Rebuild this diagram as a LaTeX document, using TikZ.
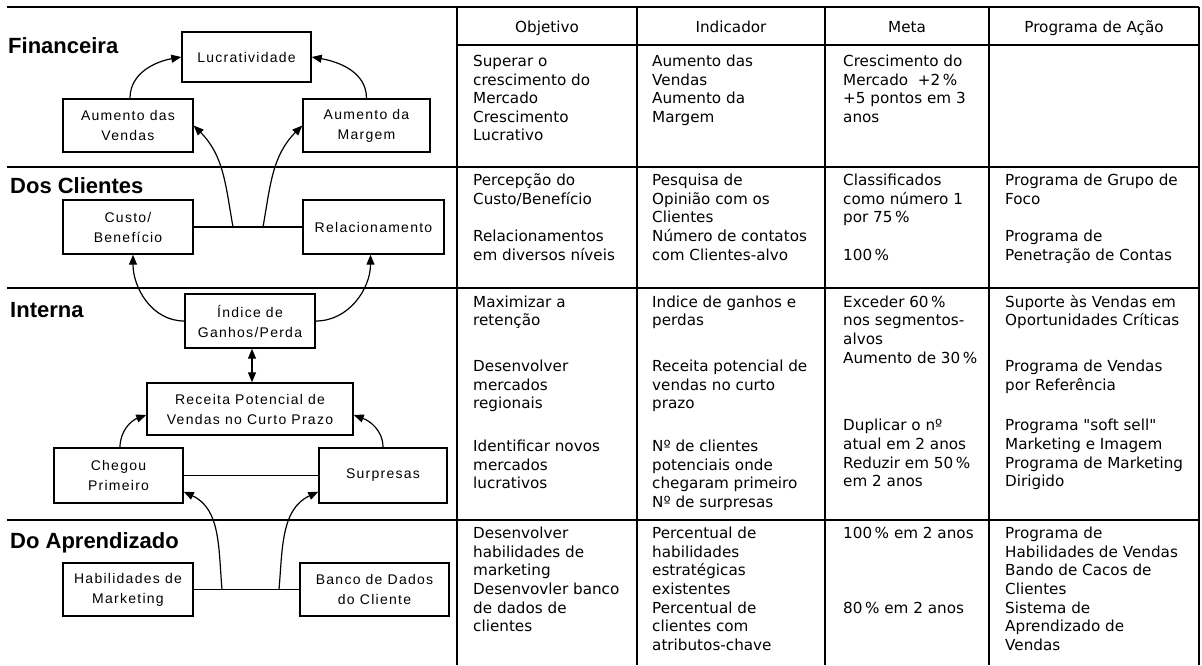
\documentclass[tikz,border=0pt]{standalone}
\usepackage{fontspec}
\usetikzlibrary{arrows.meta}
\newfontfamily\tabfont[Ligatures=TeXOff]{DejaVu Sans}
\newfontfamily\boxfont[LetterSpace=9]{Liberation Sans}
\newfontfamily\headfont{Liberation Sans}

\begin{document}
\begin{tikzpicture}[x=1pt,y=-1pt,
  grid/.style={line width=1.5pt},
  headrule/.style={line width=2.6pt},
  dbox/.style={draw, line width=1.4pt, fill=white, align=center, inner sep=0pt,
    font=\boxfont\fontsize{14}{20}\selectfont},
  link/.style={line width=1.2pt},
  tip/.tip={Triangle[length=10pt,width=8pt]},
  flow/.style={line width=1.2pt, -tip},
  sect/.style={anchor=base west, inner sep=0pt,
    font=\headfont\bfseries\fontsize{22}{26}\selectfont},
  hcell/.style={anchor=base, inner sep=0pt,
    font=\tabfont\fontsize{15.2}{18.6}\selectfont},
  cell/.style={anchor=north west, inner sep=0pt, align=left,
    font=\tabfont\fontsize{15.2}{18.6}\selectfont}]

\useasboundingbox (0,0) rectangle (1202,665);

% ---- grid of the table ----
\draw[grid] (7,7) -- (1199,7);
\draw[headrule] (457,45) -- (1199,45);
\draw[grid] (7,167) -- (1199,167);
\draw[grid] (7,288) -- (1199,288);
\draw[grid] (7,520) -- (1199,520);
\foreach \xc in {457,637,825,989,1199}
  \draw[grid] (\xc,7) -- (\xc,665);

% ---- column headings ----
\node[hcell] (hobj)  at (547,32)  {Objetivo};
\node[hcell] (hind)  at (731,32)  {Indicador};
\node[hcell] (hmeta) at (907,32)  {Meta};
\node[hcell] (hprog) at (1094,32) {Programa de Ação};

% ---- perspective labels ----
\node[sect] (pfin) at (8,53)   {Financeira};
\node[sect] (pcli) at (10,193) {Dos Clientes};
\node[sect] (pint) at (10,317) {Interna};
\node[sect] (papr) at (10,548) {Do Aprendizado};

% ---- cause-and-effect boxes ----
\node[dbox, minimum width=129pt, minimum height=50pt] (lucr)    at (246.5,57)  {Lucratividade};
\node[dbox, minimum width=130pt, minimum height=53pt] (avend)   at (128,125.5) {Aumento das\\Vendas};
\node[dbox, minimum width=127pt, minimum height=53pt] (amarg)   at (366.5,125.5) {Aumento da\\Margem};
\node[dbox, minimum width=130pt, minimum height=54pt] (custo)   at (128,227)   {Custo/\\Benefício};
\node[dbox, minimum width=141pt, minimum height=54pt] (relac)   at (373.5,227) {Relacionamento};
\node[dbox, minimum width=130pt, minimum height=54pt] (indice)  at (250,321)   {Índice de\\Ganhos/Perda};
\node[dbox, minimum width=206pt, minimum height=52pt] (receita) at (250,409)   {Receita Potencial de\\Vendas no Curto Prazo};
\node[dbox, minimum width=129pt, minimum height=55pt] (chegou)  at (118.5,475.5) {Chegou\\Primeiro};
\node[dbox, minimum width=128pt, minimum height=55pt] (surp)    at (383,475.5) {Surpresas};
\node[dbox, minimum width=130pt, minimum height=53pt] (habil)   at (128,589.5) {Habilidades de\\Marketing};
\node[dbox, minimum width=149pt, minimum height=53pt] (banco)   at (374.5,589.5) {Banco de Dados\\do Cliente};

% junctions on the linking lines
\coordinate (j1) at (233,227);
\coordinate (j2) at (263,227);
\coordinate (j3) at (222,589.5);
\coordinate (j4) at (279,589.5);

% ---- connectors ----
\draw[link] (custo.east) -- (relac.west);
\draw[link] (chegou.east) -- (surp.west);
\draw[link] (habil.east) -- (banco.west);

\draw[flow] ([xshift=2pt]avend.north) to[out=90,in=190] (lucr.west);
\draw[flow] (amarg.north) to[out=90,in=-10] (lucr.east);
\draw[flow] (j1) to[out=100,in=-45] (avend.east);
\draw[flow] (j2) to[out=80,in=225] (amarg.west);
\draw[flow] (indice.west) to[out=180,in=-90] ([xshift=5pt]custo.south);
\draw[flow] (indice.east) to[out=0,in=-90] ([xshift=-3pt]relac.south);
\draw[line width=1.2pt, tip-tip] ([xshift=2pt]indice.south) -- ([xshift=2pt]receita.north);
\draw[flow] ([xshift=1.5pt]chegou.north) to[out=90,in=200] ([yshift=-6pt]receita.west);
\draw[flow] (surp.north) to[out=90,in=-20] ([yshift=-6pt]receita.east);
\draw[flow] (j3) to[out=95,in=-25] ([yshift=12pt]chegou.south east);
\draw[flow] (j4) to[out=85,in=205] ([yshift=12pt]surp.south west);

% ---- table contents: Financeira ----
\node[cell] (f1) at (473,53.2) {\strut Superar o\\crescimento do\\Mercado\\Crescimento\\Lucrativo};
\node[cell] (f2) at (652,53.2) {\strut Aumento das\\Vendas\\Aumento da\\Margem};
\node[cell] (f3) at (843,53.2) {\strut Crescimento do\\Mercado~~+2\,\%\\+5 pontos em 3\\anos};

% ---- Dos Clientes ----
\node[cell] (c1) at (473,172.5) {\strut Percepção do\\Custo/Benefício\\[18.6pt]Relacionamentos\\em diversos níveis};
\node[cell] (c2) at (652,172.5) {\strut Pesquisa de\\Opinião com os\\Clientes\\Número de contatos\\com Clientes-alvo};
\node[cell] (c3) at (843,172.5) {\strut Classificados\\como número 1\\por 75\,\%\\[18.6pt]100\,\%};
\node[cell] (c4) at (1005,172.5) {\strut Programa de Grupo de\\Foco\\[18.6pt]Programa de\\Penetração de Contas};

% ---- Interna ----
\node[cell] (i1) at (473,294) {\strut Maximizar a\\retenção\\[27.2pt]Desenvolver\\mercados\\regionais\\[24pt]Identificar novos\\mercados\\lucrativos};
\node[cell] (i2) at (652,294) {\strut Indice de ganhos e\\perdas\\[27.2pt]Receita potencial de\\vendas no curto\\prazo\\[24pt]Nº de clientes\\potenciais onde\\chegaram primeiro\\Nº de surpresas};
\node[cell] (i3) at (843,294) {\strut Exceder 60\,\%\\nos segmentos-\\alvos\\Aumento de 30\,\%\\[49.2pt]Duplicar o nº\\atual em 2 anos\\Reduzir em 50\,\%\\em 2 anos};
\node[cell] (i4) at (1005,294) {\strut Suporte às Vendas em\\Oportunidades Críticas\\[27.2pt]Programa de Vendas\\por Referência\\[22.1pt]Programa "soft sell"\\Marketing e Imagem\\Programa de Marketing\\Dirigido};

% ---- Do Aprendizado ----
\node[cell] (a1) at (473,525.5) {\strut Desenvolver\\habilidades de\\marketing\\Desenvovler banco\\de dados de\\clientes};
\node[cell] (a2) at (652,525.5) {\strut Percentual de\\habilidades\\estratégicas\\existentes\\Percentual de\\clientes com\\atributos-chave};
\node[cell] (a3) at (843,525.5) {\strut 100\,\% em 2 anos\\[55.8pt]80\,\% em 2 anos};
\node[cell] (a4) at (1005,525.5) {\strut Programa de\\Habilidades de Vendas\\Bando de Cacos de\\Clientes\\Sistema de\\Aprendizado de\\Vendas};

\end{tikzpicture}
\end{document}
